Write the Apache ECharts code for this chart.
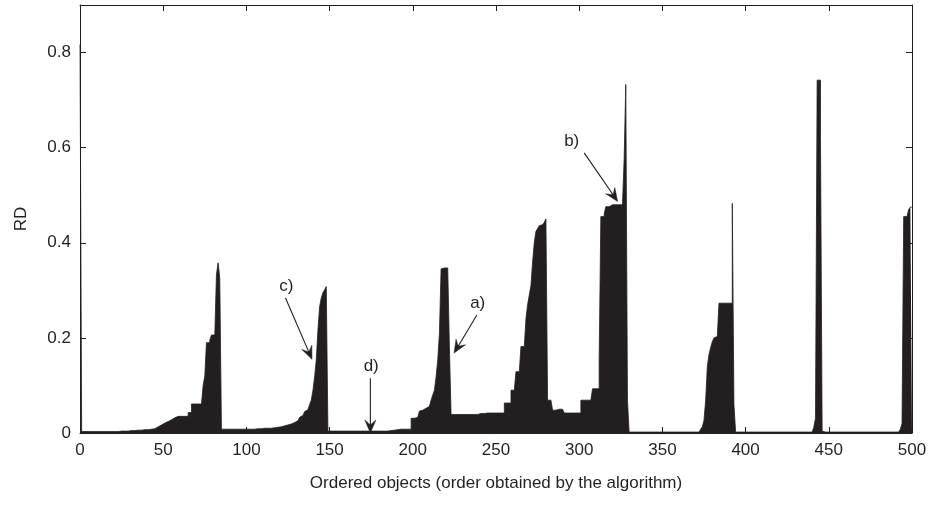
<!DOCTYPE html>
<html>
<head>
<meta charset="utf-8">
<script src="https://cdn.jsdelivr.net/npm/echarts@6/dist/echarts.min.js"></script>
<style>
html,body{margin:0;padding:0;background:#fff;}
#chart{width:931px;height:507px;}
</style>
</head>
<body>
<div id="chart"></div>
<script>
// Reachability distance (RD) of the ordered objects, objects 1..500
const rd001_100 = [0.817,
0.003,0.003,0.003,0.003,0.003,0.003,0.003,0.003,0.003,0.003,0.003,0.003,0.003,0.003,0.003,0.003,0.003,0.003,0.003,0.003,0.003,0.003,0.003,
0.004,0.004,0.004,0.004,0.004,0.005,0.005,
0.005,0.005,0.005,0.006,0.006,0.006,0.006,0.007,0.007,0.007,0.007,0.008,0.008,0.009,
0.011,0.013,0.015,0.017,0.019,0.021,0.022,0.024,0.026,0.028,0.030,0.032,0.033,
0.035,0.035,0.035,0.035,0.035,0.035,0.035,
0.043,0.043,
0.061,0.061,0.061,0.061,0.061,0.061,0.061,
0.100,0.120,0.190,0.190,0.195,0.206,0.206,0.206,0.333,0.358,0.326,
0.008,0.008,0.008,0.008,0.008,0.008,0.008,0.008,0.008,0.008,0.008,0.008,0.008,0.008,0.008];

const rd101_200 = [
0.008,0.008,0.008,0.008,0.008,0.009,0.009,0.009,0.009,0.009,0.010,0.010,0.010,0.010,0.010,
0.011,0.011,0.012,0.012,0.013,0.013,0.014,0.015,0.016,0.017,
0.018,0.019,0.021,0.022,0.024,0.026,
0.029,0.033,0.037,0.041,
0.045,0.049,0.052,
0.060,0.069,0.090,0.118,0.154,0.217,0.266,0.284,0.295,0.301,0.308,
0.004,0.004,0.004,0.004,0.004,0.004,0.004,0.004,0.004,0.004,0.004,0.004,0.004,0.004,0.004,0.004,0.004,0.004,
0.004,0.004,0.004,0.004,0.004,0.004,0.004,0.004,0.004,0.004,0.004,0.004,0.004,0.004,0.004,0.004,0.004,0.004,
0.005,0.005,0.006,0.006,0.007,0.007,
0.008,0.008,0.008,0.008,0.008,0.008,0.008,0.008,
0.031];

const rd201_300 = [
0.031,0.032,0.033,0.036,0.046,
0.048,0.050,0.052,0.054,0.056,0.058,
0.069,0.080,0.090,0.118,0.154,0.210,
0.345,0.347,0.347,0.347,0.347,
0.180,
0.039,0.039,0.039,0.039,0.039,0.039,0.039,0.039,0.039,0.039,0.039,0.039,0.039,0.039,0.039,0.039,0.039,
0.041,0.041,0.041,0.041,0.042,0.042,0.042,0.042,0.042,0.042,0.042,0.042,0.042,0.042,0.042,
0.063,0.063,0.063,0.063,
0.090,0.090,0.090,
0.129,0.129,0.129,
0.182,0.182,0.182,
0.240,0.270,0.290,0.310,0.360,0.400,0.424,0.430,0.436,0.438,0.440,0.443,0.450,
0.069,0.069,0.069,
0.048,0.048,0.048,0.050,0.050,0.050,0.050,
0.042,0.042,0.042,0.042,0.042,0.042,0.042,0.042,0.042];

const rd301_400 = [
0.042,
0.069,0.069,0.069,0.069,0.069,0.069,0.069,
0.093,0.093,0.093,0.093,
0.154,
0.455,0.455,0.460,
0.476,0.476,
0.480,0.480,0.480,0.480,0.480,0.480,0.480,0.480,0.480,
0.575,0.733,0.069,
0.002,0.002,0.002,0.002,0.002,0.002,0.002,0.002,0.002,0.002,0.002,0.002,0.002,0.002,0.002,0.002,0.002,0.002,0.002,0.002,0.002,
0.002,0.002,0.002,0.002,0.002,0.002,0.002,0.002,0.002,0.002,0.002,0.002,0.002,0.002,0.002,0.002,0.002,0.002,0.002,0.002,0.002,
0.004,0.008,0.013,0.027,
0.069,0.140,0.165,0.180,0.192,0.200,0.203,0.206,
0.273,0.273,0.273,0.273,0.273,0.273,0.273,0.273,
0.483,0.059,
0.002,0.002,0.002,0.002,0.002,0.002];

const rd401_500 = [
0.002,0.002,0.002,0.002,0.002,0.002,0.002,0.002,0.002,0.002,0.002,0.002,0.002,0.002,0.002,0.002,0.002,0.002,0.002,0.002,
0.002,0.002,0.002,0.002,0.002,0.002,0.002,0.002,0.002,0.002,0.002,0.002,0.002,0.002,0.002,0.002,0.002,0.002,0.002,0.002,
0.005,0.012,0.031,
0.742,0.742,0.624,0.004,
0.002,0.002,0.002,0.002,0.002,0.002,0.002,0.002,0.002,0.002,0.002,0.002,0.002,0.002,0.002,
0.002,0.002,0.002,0.002,0.002,0.002,0.002,0.002,0.002,0.002,0.002,0.002,0.002,0.002,0.002,
0.002,0.002,0.002,0.002,0.002,0.002,0.002,0.002,0.002,0.002,0.002,0.002,0.002,0.002,0.002,
0.003,0.008,0.020,
0.455,0.455,0.455,0.470,0.475];

const xTicks = [0, 50, 100, 150, 200, 250, 300, 350, 400, 450, 500];
const yTicks = [0, 0.2, 0.4, 0.6, 0.8];

// annotations (data coordinates)
const annLabels = ['a)', 'b)', 'c)', 'd)'];
const annText = [[239, 0.273], [295.5, 0.613], [124, 0.308], [175, 0.14]];
const annTail = [[238.5, 0.248], [303, 0.589], [123.5, 0.284], [174.5, 0.115]];
const annTip  = [[224.8, 0.168], [323.1, 0.487], [139.4, 0.155], [174.5, 0.0]];

const ink = '#231f20';
const font = 'Liberation Sans, Arial, Helvetica, sans-serif';

const rd = [].concat(rd001_100, rd101_200, rd201_300, rd301_400, rd401_500);
const seriesData = rd.map((v, i) => [i, v]);
seriesData.push([rd.length, rd[rd.length - 1]]);

const chart = echarts.init(document.getElementById('chart'), null, {renderer: 'canvas'});

const axisCommon = {
  axisLine: {show: true, onZero: false, lineStyle: {color: ink, width: 1}},
  axisTick: {show: true, inside: true, length: 6, lineStyle: {color: ink, width: 1}},
  splitLine: {show: false}
};

chart.setOption({
  animation: false,
  backgroundColor: '#fff',
  grid: {left: 80, right: 19, top: 5, bottom: 74, containLabel: false},
  xAxis: [
    Object.assign({
      type: 'value', position: 'bottom', min: xTicks[0], max: xTicks[xTicks.length - 1],
      interval: xTicks[1] - xTicks[0],
      axisLabel: {color: ink, fontSize: 17, fontFamily: font, margin: 9},
      name: 'Ordered objects (order obtained by the algorithm)',
      nameLocation: 'middle', nameGap: 42,
      nameTextStyle: {color: ink, fontSize: 17, fontFamily: font}
    }, axisCommon),
    Object.assign({
      type: 'value', position: 'top', min: xTicks[0], max: xTicks[xTicks.length - 1],
      interval: xTicks[1] - xTicks[0], axisLabel: {show: false}
    }, axisCommon)
  ],
  yAxis: [
    Object.assign({
      type: 'value', position: 'left', min: 0, max: 0.9, interval: 0.2,
      axisLabel: {color: ink, fontSize: 17, fontFamily: font, margin: 9, showMaxLabel: false,
        formatter: function (v) {
          const hit = yTicks.find(t => Math.abs(t - v) < 1e-9);
          if (hit === undefined) return '';
          return hit === 0 ? '0' : hit.toFixed(1);
        }},
      name: 'RD', nameLocation: 'middle', nameGap: 50, nameRotate: 90,
      nameTextStyle: {color: ink, fontSize: 17, fontFamily: font}
    }, axisCommon),
    Object.assign({
      type: 'value', position: 'right', min: 0, max: 0.9, interval: 0.2,
      axisLabel: {show: false}
    }, axisCommon)
  ],
  series: [{
    type: 'line',
    xAxisIndex: 0, yAxisIndex: 0,
    step: 'end',
    symbol: 'none',
    data: seriesData,
    lineStyle: {color: ink, width: 0.8},
    areaStyle: {color: ink, opacity: 1},
    z: 1
  }]
});

// annotations: text + arrow, positioned from data coordinates
const toPx = p => chart.convertToPixel({xAxisIndex: 0, yAxisIndex: 0}, p);
const graphics = [];
annLabels.forEach((lab, k) => {
  const t = toPx(annText[k]);
  const a = toPx(annTail[k]);
  const b = toPx(annTip[k]);
  const dx = b[0] - a[0], dy = b[1] - a[1];
  const len = Math.hypot(dx, dy);
  const ux = dx / len, uy = dy / len;
  const nx = -uy, ny = ux;
  const L = 13, W = 5.5, back = 0.62 * L;
  const bx = b[0] - back * ux, by = b[1] - back * uy;
  graphics.push({
    type: 'line', silent: true, z: 10,
    shape: {x1: a[0], y1: a[1], x2: bx, y2: by},
    style: {stroke: ink, lineWidth: 1.1}
  });
  graphics.push({
    type: 'polygon', silent: true, z: 10,
    shape: {points: [
      [b[0], b[1]],
      [b[0] - L * ux + W * nx, b[1] - L * uy + W * ny],
      [bx, by],
      [b[0] - L * ux - W * nx, b[1] - L * uy - W * ny]
    ]},
    style: {fill: ink, stroke: ink, lineWidth: 0.5}
  });
  graphics.push({
    type: 'text', silent: true, z: 10,
    x: t[0], y: t[1],
    style: {text: lab, fill: ink, font: '17px ' + font, align: 'center', verticalAlign: 'middle'}
  });
});
chart.setOption({graphic: graphics});
</script>
</body>
</html>
